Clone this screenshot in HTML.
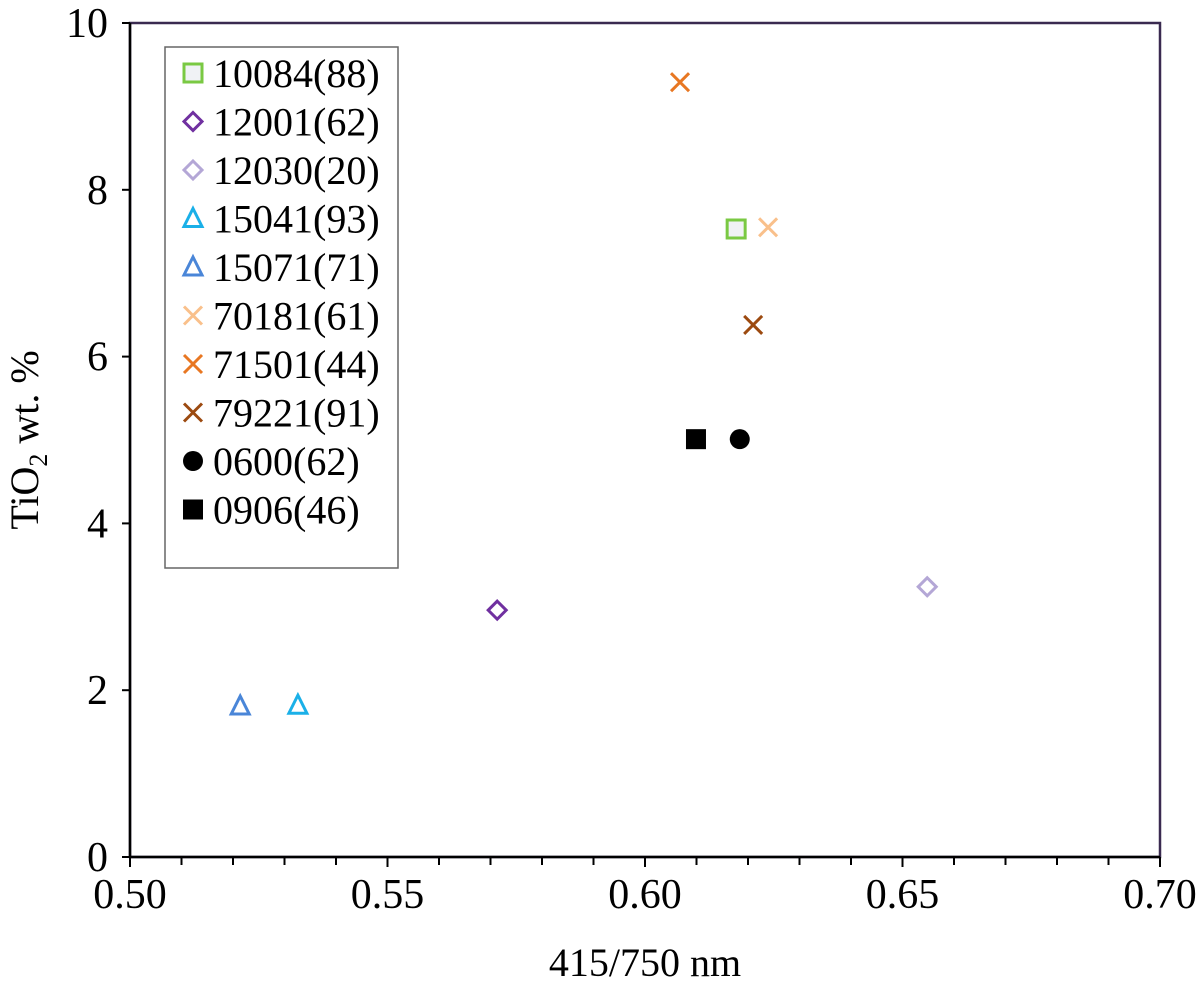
<!DOCTYPE html>
<html><head><meta charset="utf-8"><style>
body{margin:0;background:#fff}
svg text{font-family:"Liberation Serif",serif;fill:#000}
</style></head><body>
<svg id="chart" width="1200" height="987" viewBox="0 0 1200 987" xmlns="http://www.w3.org/2000/svg">
<rect x="130" y="23" width="1030" height="834" fill="#fff" stroke="#3a2a50" stroke-width="2.5"/>
<g id="axes"></g>
<g id="marks"></g>
<g id="legend"></g>
<text x="645" y="976" font-size="40" text-anchor="middle">415/750 nm</text>
<text transform="translate(38,440) rotate(-90)" font-size="40" text-anchor="middle">TiO<tspan font-size="26" dy="9">2</tspan><tspan dy="-9"> wt. %</tspan></text>
</svg>
<script>
const names=["10084(88)","12001(62)","12030(20)","15041(93)","15071(71)","70181(61)","71501(44)","79221(91)","0600(62)","0906(46)"];
const xVals=[0.6177,0.5713,0.6548,0.5326,0.5214,0.6239,0.6068,0.621,0.6184,0.6099];
const yVals=[7.53,2.96,3.24,1.82,1.81,7.55,9.29,6.38,5.01,5.01];
const shapes=["square","diamond","diamond","triangle","triangle","x","x","x","circle","fsquare"];
const colors=["#7ac943","#7030a0","#b4a7d6","#1ab0e8","#4a86d8","#f9c08b","#e87722","#9c4a10","#000","#000"];
const xTicks=[0.50,0.55,0.60,0.65,0.70];
const yTicks=[0,2,4,6,8,10];
const NS="http://www.w3.org/2000/svg";
const X0=130,X1=1160,Y0=857,Y1=23;
const sx=v=>X0+(v-0.5)/0.2*(X1-X0);
const sy=v=>Y0-(v/10)*(Y0-Y1);
function mk(t,a,p){const e=document.createElementNS(NS,t);for(const k in a)e.setAttribute(k,a[k]);p.appendChild(e);return e;}
const ax=document.getElementById('axes');
const xl=mk('line',{x1:X0,y1:Y0,x2:X1,y2:Y0,stroke:'#000','stroke-width':2.5},ax);


const yl=mk('line',{x1:X0,y1:Y0,x2:X0,y2:Y1,stroke:'#000','stroke-width':2.5},ax);


for(let i=0;i<=20;i++){const v=0.5+i*0.01;const x=sx(v);
 const t=mk('line',{x1:x,y1:Y0,x2:x,y2:Y0+(i%5==0?10:8),stroke:'#000','stroke-width':2},ax);
 
 }
xTicks.forEach(v=>{const t=mk('text',{x:sx(v),y:908,'font-size':42,'text-anchor':'middle'},ax);t.textContent=v.toFixed(2);
 
 });
yTicks.forEach(v=>{const y=sy(v);
 const l=mk('line',{x1:X0-8,y1:y,x2:X0,y2:y,stroke:'#000','stroke-width':2},ax);
 
 
 const t=mk('text',{x:108,y:y+14,'font-size':42,'text-anchor':'end'},ax);t.textContent=v;
 
 });
function marker(s,c,x,y,p){
 const g=mk('g',{},p);const sw=3;
 if(s=='square')mk('rect',{x:x-9,y:y-9,width:18,height:18,fill:'#f0f2f5',stroke:c,'stroke-width':sw},g);
 else if(s=='fsquare')mk('rect',{x:x-10,y:y-10,width:20,height:20,fill:c},g);
 else if(s=='diamond')mk('path',{d:`M${x} ${y-9}L${x+9} ${y}L${x} ${y+9}L${x-9} ${y}Z`,fill:'none',stroke:c,'stroke-width':sw},g);
 else if(s=='triangle')mk('path',{d:`M${x} ${y-10}L${x+9} ${y+8}L${x-9} ${y+8}Z`,fill:'none',stroke:c,'stroke-width':sw},g);
 else if(s=='x')mk('path',{d:`M${x-9} ${y-9}L${x+9} ${y+9}M${x+9} ${y-9}L${x-9} ${y+9}`,stroke:c,'stroke-width':sw},g);
 else mk('circle',{cx:x,cy:y,r:10,fill:c},g);
 return g;}
const mg=document.getElementById('marks');
xVals.forEach((v,i)=>{const g=marker(shapes[i],colors[i],sx(v),sy(yVals[i]),mg);
 
 });
const lg=document.getElementById('legend');


mk('rect',{x:165,y:47,width:233,height:521,fill:'#fff',stroke:'#666','stroke-width':1.5},lg);
names.forEach((n,i)=>{const y=73+i*48.5;
 const g=mk('g',{},lg);
 
 
 marker(shapes[i],colors[i],193,y,g);
 const t=mk('text',{x:213,y:y+14,'font-size':40},g);t.textContent=n;});
</script>
</body></html>
